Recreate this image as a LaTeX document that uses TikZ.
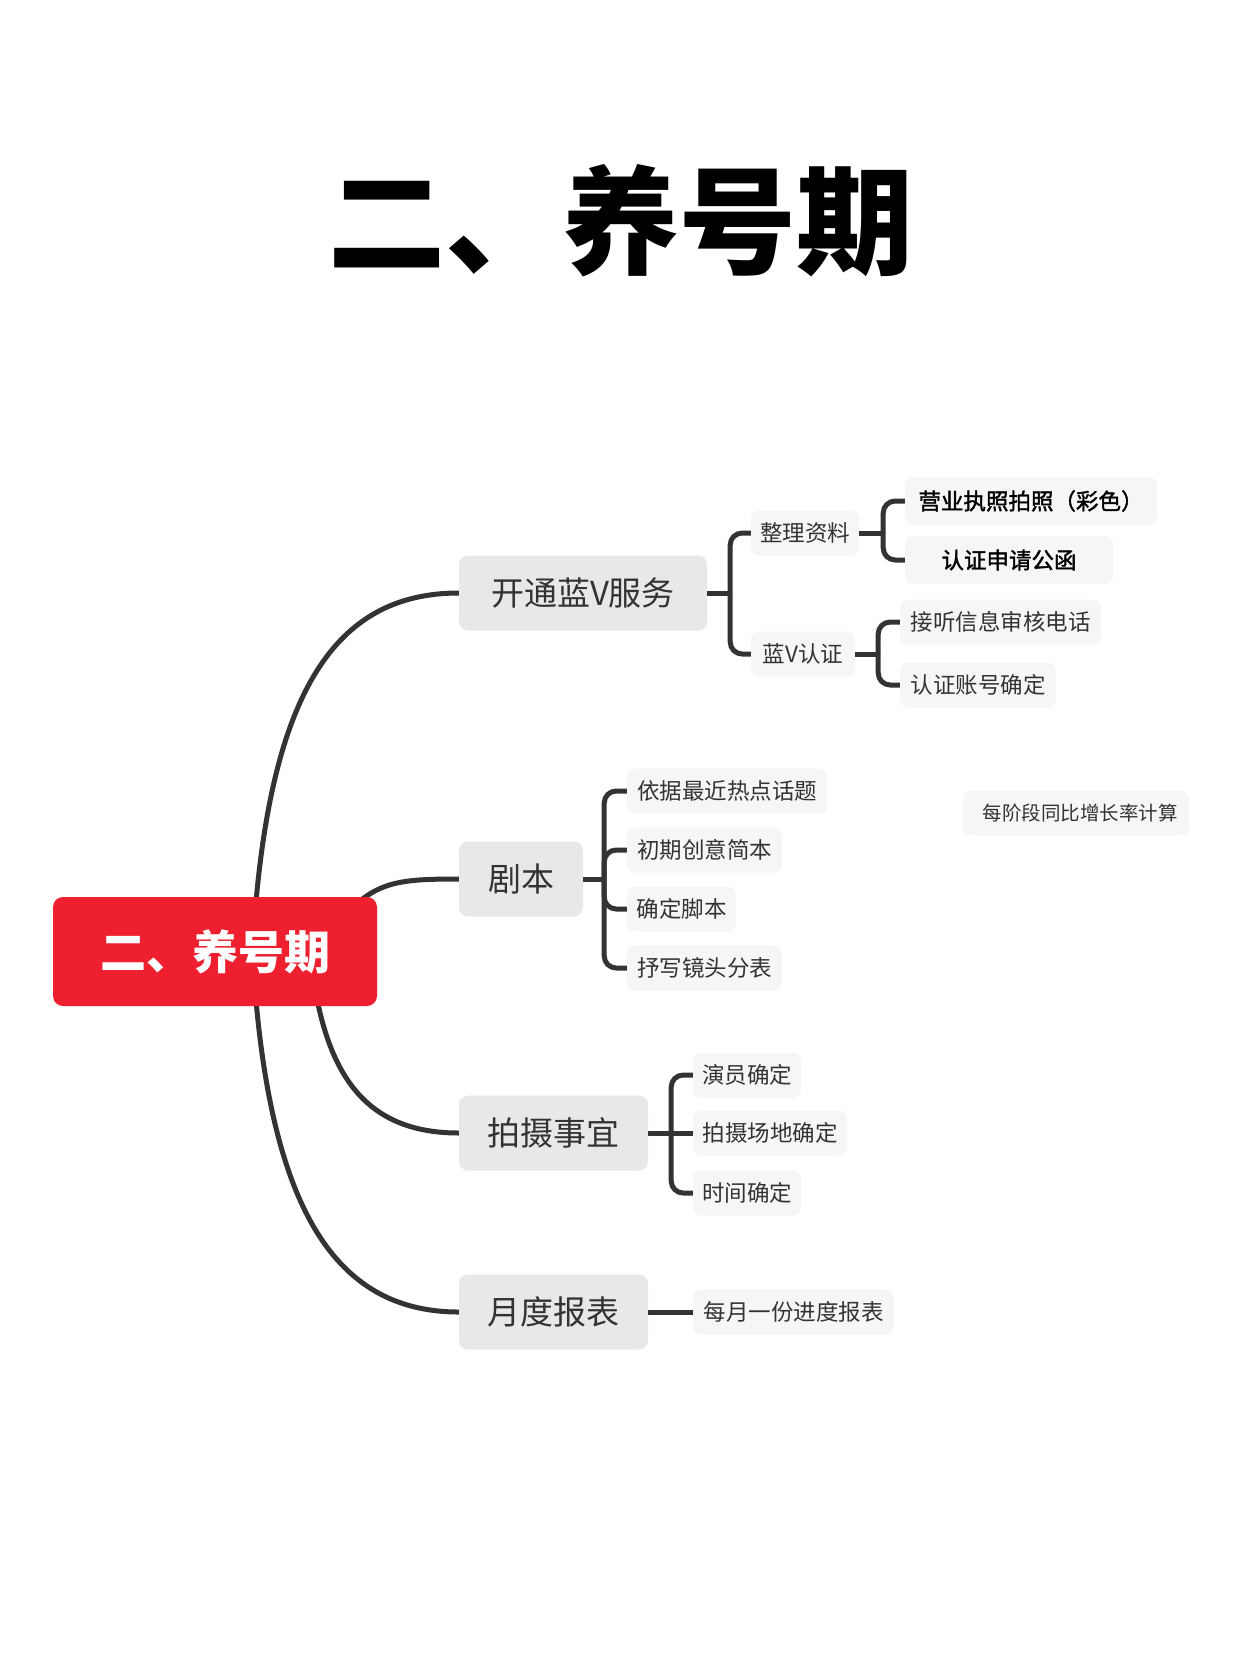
\documentclass[tikz,border=0pt]{standalone}
\usepackage{fontspec}
\setmainfont{Noto Sans CJK SC}
\newfontfamily\semibold[FakeBold=1.6]{Noto Sans CJK SC}
\usetikzlibrary{backgrounds,calc}
\definecolor{rootred}{RGB}{238,32,47}
\definecolor{mainfill}{RGB}{232,232,232}
\definecolor{subfill}{RGB}{246,246,246}
\definecolor{linec}{RGB}{51,51,51}
\definecolor{txt}{RGB}{51,51,51}
\begin{document}
\begin{tikzpicture}[x=1pt,y=-1pt,
  mainbox/.style={fill=mainfill, rounded corners=9pt, minimum height=75pt, inner sep=0pt, text=txt, font=\fontsize{33}{40}\selectfont},
  subbox/.style={fill=subfill, rounded corners=8pt, minimum height=45pt, inner sep=0pt, text=txt, font=\fontsize{22.5}{27}\selectfont},
  boldbox/.style={subbox, minimum height=48pt, text=black, font=\fontsize{22.5}{27}\selectfont\semibold},
  link/.style={draw=linec, line width=5pt},
  brk/.style={draw=linec, line width=5pt, rounded corners=12pt}
]
\useasboundingbox (0,0) rectangle (1242,1659);

% title
\node (title) at (621,221) {\fontsize{117}{130}\selectfont\bfseries 二、养号期};

% root
\node[fill=rootred, rounded corners=10pt, minimum width=324pt, minimum height=109pt, inner sep=0pt, text=white, font=\fontsize{46}{52}\selectfont\bfseries] (root) at (215,951.5) {二、养号期};

% main branches
\node[mainbox, minimum width=248pt] (kt) at (583,593) {开通蓝V服务};
\node[mainbox, minimum width=124pt] (jb) at (521,879) {剧本};
\node[mainbox, minimum width=189pt] (ps) at (553.5,1133) {拍摄事宜};
\node[mainbox, minimum width=189pt] (yd) at (553.5,1312) {月度报表};

% level 2 of kt
\node[subbox, minimum width=108pt] (zl) at (805,533) {整理资料};
\node[subbox, minimum width=104pt] (lv) at (803,654) {蓝V认证};
\node[boldbox, minimum width=252pt] (yy) at (1031,501) {营业执照拍照（彩色）};
\node[boldbox, minimum width=208pt] (rz) at (1009,560) {认证申请公函};
\node[subbox, minimum width=201pt] (jt) at (1000.5,622) {接听信息审核电话};
\node[subbox, minimum width=156pt] (zh) at (978,685) {认证账号确定};

% jb children
\node[subbox, minimum width=200pt] (yj) at (727,791) {依据最近热点话题};
\node[subbox, minimum width=155pt] (cq) at (704.5,850) {初期创意简本};
\node[subbox, minimum width=109pt] (qd) at (681.5,909) {确定脚本};
\node[subbox, minimum width=155pt] (sx) at (704.5,968) {抒写镜头分表};

% floating
\node[subbox, minimum width=226pt, font=\fontsize{19.5}{24}\selectfont] (mj) at (1076,813) {\hspace*{8pt}每阶段同比增长率计算};

% ps children
\node[subbox, minimum width=108pt] (yc) at (747,1075) {演员确定};
\node[subbox, minimum width=154pt] (cd) at (770,1133) {拍摄场地确定};
\node[subbox, minimum width=108pt] (sj) at (747,1193) {时间确定};

% yd child
\node[subbox, minimum width=201pt] (mb) at (793.5,1312) {每月一份进度报表};

% bracket junctions
\coordinate (ktb) at ([xshift=23pt]kt.east);
\coordinate (zlb) at ([xshift=24pt]zl.east);
\coordinate (lvb) at ([xshift=23pt]lv.east);
\coordinate (jbb) at ([xshift=21pt]jb.east);
\coordinate (psb) at ([xshift=23pt]ps.east);

% curve start points inside root
\coordinate (r1) at (252,960);
\coordinate (r2) at (340,920);
\coordinate (r3) at (310,950);
\coordinate (r4) at (252,943);

\begin{scope}[on background layer]
  \fill[white] (0,0) rectangle (1242,1659);
  \draw[link] (r1) .. controls (265,700) and (330,593) .. (kt.west);
  \draw[link] (r2) .. controls (375,882) and (395,879) .. (jb.west);
  \draw[link] (r3) .. controls (322,1075) and (365,1133) .. (ps.west);
  \draw[link] (r4) .. controls (265,1200) and (330,1312) .. (yd.west);
\end{scope}

% brackets
\draw[link] (kt.east) -- (ktb);
\draw[brk] (ktb) |- (zl.west);
\draw[brk] (ktb) |- (lv.west);

\draw[link] (zl.east) -- (zlb);
\draw[brk] (zlb) |- (yy.west);
\draw[brk] (zlb) |- (rz.west);

\draw[link] (lv.east) -- (lvb);
\draw[brk] (lvb) |- (jt.west);
\draw[brk] (lvb) |- (zh.west);

\draw[link] (jb.east) -- (jbb);
\draw[brk] (jbb) |- (yj.west);
\draw[brk] (jbb) |- (cq.west);
\draw[brk] (jbb) |- (qd.west);
\draw[brk] (jbb) |- (sx.west);

\draw[link] (ps.east) -- (psb);
\draw[brk] (psb) |- (yc.west);
\draw[link] (psb) -- (cd.west);
\draw[brk] (psb) |- (sj.west);

\draw[link] (yd.east) -- (mb.west);
\end{tikzpicture}
\end{document}
